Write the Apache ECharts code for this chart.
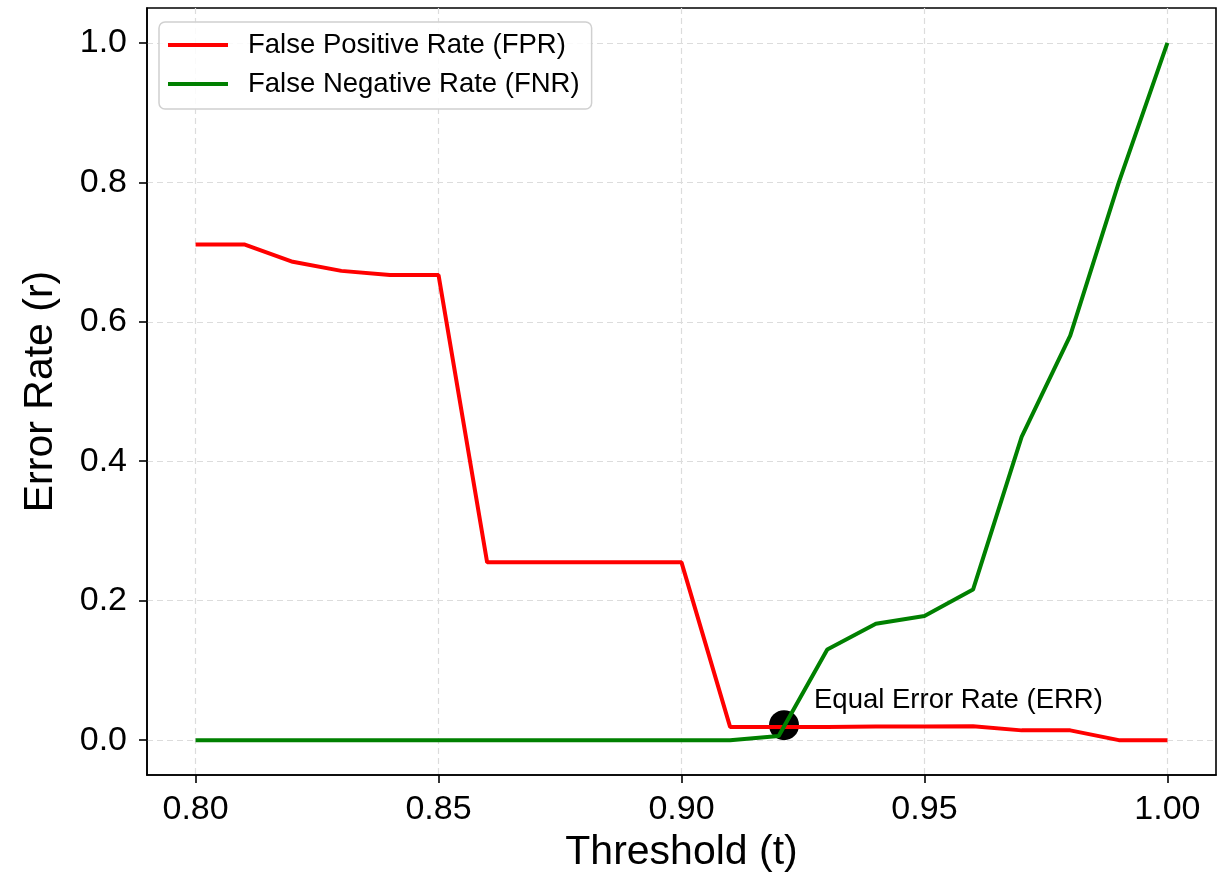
<!DOCTYPE html>
<html>
<head>
<meta charset="utf-8">
<script src="https://cdn.jsdelivr.net/npm/echarts@6/dist/echarts.min.js"></script>
<style>
html,body{margin:0;padding:0;background:#fff;}
#chart{width:1230px;height:878px;}
</style>
</head>
<body>
<div id="chart"></div>
<script>
const thresholds = [0.80,0.81,0.82,0.83,0.84,0.85,0.86,0.87,0.88,0.89,0.90,0.91,0.92,0.93,0.94,0.95,0.96,0.97,0.98,0.99,1.00];
const fpr = [0.711,0.711,0.686,0.673,0.667,0.667,0.255,0.255,0.255,0.255,0.255,0.019,0.019,0.019,0.0195,0.0195,0.020,0.014,0.014,0.0,0.0];
const fnr = [0,0,0,0,0,0,0,0,0,0,0,0.0,0.006,0.130,0.167,0.178,0.216,0.435,0.580,0.800,1.0];
const errPoint = [0.9211, 0.0215];
const xTicks = [0.80,0.85,0.90,0.95,1.00];
const yTicks = [0.0,0.2,0.4,0.6,0.8,1.0];
const seriesNames = ['False Positive Rate (FPR)','False Negative Rate (FNR)'];
const errLabel = 'Equal Error Rate (ERR)';
const xTitle = 'Threshold (t)';
const yTitle = 'Error Rate (r)';

const FONT = '"Liberation Sans", Arial, sans-serif';
const chart = echarts.init(document.getElementById('chart'), null, {renderer:'canvas'});
const pair = (xs, ys) => xs.map((x,i)=>[x, ys[i]]);

chart.setOption({
  animation:false,
  backgroundColor:'#fff',
  textStyle:{fontFamily:FONT, color:'#000'},
  grid:{left:147, right:14, top:8, bottom:103, show:true, borderColor:'#000', borderWidth:1.6, backgroundColor:'transparent'},
  legend:{
    data:seriesNames,
    icon:'rect',
    orient:'vertical',
    left:159, top:22,
    itemWidth:60, itemHeight:4, itemGap:11,
    padding:[9,12,11,9],
    backgroundColor:'rgba(255,255,255,0.85)',
    borderColor:'#d0d0d0', borderWidth:1.5, borderRadius:6,
    textStyle:{fontFamily:FONT, fontSize:27.5, color:'#000', lineHeight:28, padding:[0,0,0,15]}
  },
  xAxis:{
    type:'value', min:0.79, max:1.01,
    axisLine:{show:true, onZero:false, lineStyle:{color:'#000', width:1.6}},
    axisTick:{show:true, inside:false, length:8, lineStyle:{color:'#000', width:1.6}, customValues:xTicks},
    axisLabel:{customValues:xTicks, formatter:v=>v.toFixed(2), fontSize:34, color:'#000', fontFamily:FONT, margin:18},
    splitLine:{show:true, lineStyle:{color:'#dcdcdc', type:[6,4], width:1.2}},
    name:xTitle, nameLocation:'middle', nameGap:57,
    nameTextStyle:{fontSize:41, color:'#000', fontFamily:FONT}
  },
  yAxis:{
    type:'value', min:-0.05, max:1.05,
    axisLine:{show:true, onZero:false, lineStyle:{color:'#000', width:1.6}},
    axisTick:{show:true, inside:false, length:8, lineStyle:{color:'#000', width:1.6}, customValues:yTicks},
    axisLabel:{customValues:yTicks, formatter:v=>v.toFixed(1), fontSize:34, color:'#000', fontFamily:FONT, margin:20},
    splitLine:{show:true, lineStyle:{color:'#dcdcdc', type:[6,4], width:1.2}},
    name:yTitle, nameLocation:'middle', nameGap:86, nameRotate:90,
    nameTextStyle:{fontSize:41, color:'#000', fontFamily:FONT}
  },
  series:[
    {
      name:seriesNames[0], type:'line', data:pair(thresholds,fpr),
      symbol:'none', z:3,
      lineStyle:{color:'#ff0000', width:4}, itemStyle:{color:'#ff0000'}
    },
    {
      name:seriesNames[1], type:'line', data:pair(thresholds,fnr),
      symbol:'none', z:4,
      lineStyle:{color:'#008000', width:4}, itemStyle:{color:'#008000'}
    },
    {
      name:'ERR', type:'scatter', data:[errPoint], z:2,
      symbol:'circle', symbolSize:30, itemStyle:{color:'#000', opacity:1},
      label:{show:true, formatter:errLabel, position:'right', distance:15, offset:[0,-25],
        fontSize:27.5, color:'#000', opacity:1, fontFamily:FONT}
    }
  ]
});
</script>
</body>
</html>
